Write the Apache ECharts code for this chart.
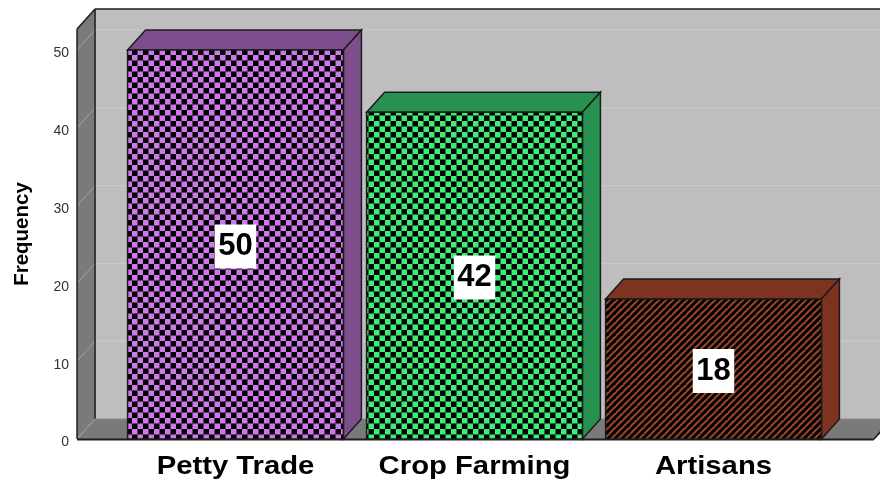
<!DOCTYPE html>
<html>
<head>
<meta charset="utf-8">
<style>html,body{margin:0;padding:0;background:#fff}#chart{width:880px;height:481px}</style>
<script src="https://cdn.jsdelivr.net/npm/echarts@6/dist/echarts.min.js"></script>
</head>
<body>
<div id="chart"></div>
<script>
// Occupation frequencies
const categories = ['Petty Trade', 'Crop Farming', 'Artisans'];
const frequencies = [50, 42, 18];
const yTicks = [0, 10, 20, 30, 40, 50];
const frontColors = ['#CE79EA', '#3FEC76', '#9A452A'];
const sideColors = ['#7E4E8C', '#27914F', '#7E3320'];
const patterns = ['checker', 'checker', 'stripe'];

const DEPTH_X = 18, DEPTH_Y = 20;
const EDGE = '#1c1c1c';
const SANS = '"Liberation Sans", Arial, sans-serif';

// Repeating fill tiles for the bar fronts
function makeTile(kind, color) {
  const c = document.createElement('canvas');
  const ctx = c.getContext('2d');
  if (kind === 'checker') {
    const s = 5.5;
    c.width = c.height = 11;
    ctx.fillStyle = '#000';
    ctx.fillRect(0, 0, 11, 11);
    ctx.fillStyle = color;
    ctx.fillRect(0, 0, s, s);
    ctx.fillRect(s, s, s, s);
  } else {
    const p = 7;
    c.width = c.height = p;
    ctx.fillStyle = '#000';
    ctx.fillRect(0, 0, p, p);
    ctx.strokeStyle = color;
    ctx.lineWidth = 2;
    for (let k = -p; k <= 2 * p; k += p) {
      ctx.beginPath();
      ctx.moveTo(k - p, p);
      ctx.lineTo(k + p, -p);
      ctx.stroke();
    }
  }
  return c;
}

function poly(points, fill, stroke, width) {
  return {
    type: 'polygon',
    shape: { points: points },
    style: { fill: fill, stroke: stroke || null, lineWidth: width || 0 }
  };
}
function seg(x1, y1, x2, y2, stroke, width) {
  return {
    type: 'line',
    shape: { x1: x1, y1: y1, x2: x2, y2: y2 },
    style: { stroke: stroke, lineWidth: width }
  };
}

// Back wall, side wall, floor and wall gridlines
function renderFrame(params, api) {
  const cs = params.coordSys;
  const band = cs.width / categories.length;
  const left = cs.x - band * 0.163;
  const right = cs.x + cs.width + band * 0.17;
  const y0 = api.coord([0, 0])[1];
  const yTop = cs.y;
  const backL = left + DEPTH_X;
  const kids = [
    poly([[backL, yTop - DEPTH_Y], [right + DEPTH_X, yTop - DEPTH_Y], [right + DEPTH_X, y0 - DEPTH_Y], [backL, y0 - DEPTH_Y]], '#BEBEBE'),
    poly([[left, yTop], [backL, yTop - DEPTH_Y], [backL, y0 - DEPTH_Y], [left, y0]], '#7A7A7A'),
    poly([[left, y0], [right, y0], [right + DEPTH_X, y0 - DEPTH_Y], [backL, y0 - DEPTH_Y]], '#7A7A7A')
  ];
  yTicks.forEach(function (t) {
    const y = api.coord([0, t])[1];
    kids.push(seg(left, y, backL, y - DEPTH_Y, '#A4A4A4', 1));
    if (t > 0) kids.push(seg(backL, y - DEPTH_Y, right + DEPTH_X, y - DEPTH_Y, '#CBCBCB', 1));
  });
  kids.push(
    seg(backL, yTop - DEPTH_Y, right + DEPTH_X, yTop - DEPTH_Y, EDGE, 1.5),
    seg(backL, yTop - DEPTH_Y, backL, y0 - DEPTH_Y, EDGE, 1.5),
    seg(left, yTop, backL, yTop - DEPTH_Y, EDGE, 1.5),
    seg(left, yTop, left, y0, EDGE, 1.5),
    seg(backL, y0 - DEPTH_Y, right + DEPTH_X, y0 - DEPTH_Y, '#8E8E8E', 1),
    seg(left, y0 + 0.5, right, y0 + 0.5, EDGE, 2),
    seg(right, y0 + 0.5, right + DEPTH_X, y0 - DEPTH_Y, EDGE, 1.5)
  );
  return { type: 'group', children: kids };
}

// One extruded bar with its value box and widened category name
function renderBar(params, api) {
  const i = api.value(0);
  const v = api.value(1);
  const base = api.coord([i, 0]);
  const top = api.coord([i, v]);
  const w = api.size([1, 0])[0] * 0.903;
  const l = base[0] - w / 2, r = base[0] + w / 2;
  const yb = base[1], yt = top[1];
  const tile = makeTile(patterns[i], frontColors[i]);
  return {
    type: 'group',
    children: [
      poly([[l, yt], [l + DEPTH_X, yt - DEPTH_Y], [r + DEPTH_X, yt - DEPTH_Y], [r, yt]], sideColors[i], EDGE, 1.5),
      poly([[r, yt], [r + DEPTH_X, yt - DEPTH_Y], [r + DEPTH_X, yb - DEPTH_Y], [r, yb]], sideColors[i], EDGE, 1.5),
      poly([[l, yt], [r, yt], [r, yb], [l, yb]], { image: tile, repeat: 'repeat' }, EDGE, 1.5),
      {
        type: 'text',
        x: base[0],
        y: (yb + yt) / 2 + 2,
        style: {
          text: String(v),
          font: 'bold 31px ' + SANS,
          fill: '#000',
          align: 'center',
          verticalAlign: 'middle',
          backgroundColor: '#fff',
          padding: [7, 3.5, 6, 3.5]
        }
      },
      {
        type: 'text',
        x: base[0],
        y: yb + 28.5,
        scaleX: 1.17,
        style: {
          text: categories[i],
          font: 'bold 25px ' + SANS,
          fill: '#000',
          align: 'center',
          verticalAlign: 'middle'
        }
      }
    ]
  };
}

const chart = echarts.init(document.getElementById('chart'), null, { renderer: 'canvas' });
chart.setOption({
  animation: false,
  backgroundColor: '#fff',
  grid: { left: 116, top: 29, width: 717, height: 410, containLabel: false, outerBoundsMode: 'none' },
  xAxis: {
    type: 'category',
    data: categories,
    axisLine: { show: false },
    axisTick: { show: false },
    axisLabel: { show: false }
  },
  yAxis: {
    type: 'value',
    min: 0,
    max: 52.7,
    interval: 10,
    offset: 38,
    name: 'Frequency',
    nameLocation: 'middle',
    nameGap: 45,
    nameTextStyle: {
      color: '#000',
      fontFamily: SANS,
      fontWeight: 'bold',
      fontSize: 20.5
    },
    axisLine: { show: false },
    axisTick: { show: false },
    splitLine: { show: false },
    axisLabel: {
      margin: 9,
      color: '#333',
      fontFamily: SANS,
      fontSize: 14,
      verticalAlign: 'top',
      lineHeight: 7,
      showMaxLabel: false
    }
  },
  series: [
    { type: 'custom', silent: true, z: 1, data: [0], renderItem: renderFrame, clip: false },
    {
      type: 'custom',
      silent: true,
      z: 2,
      clip: false,
      encode: { x: 0, y: 1 },
      data: frequencies.map(function (v, i) { return [i, v]; }),
      renderItem: renderBar
    }
  ]
});
</script>
</body>
</html>
